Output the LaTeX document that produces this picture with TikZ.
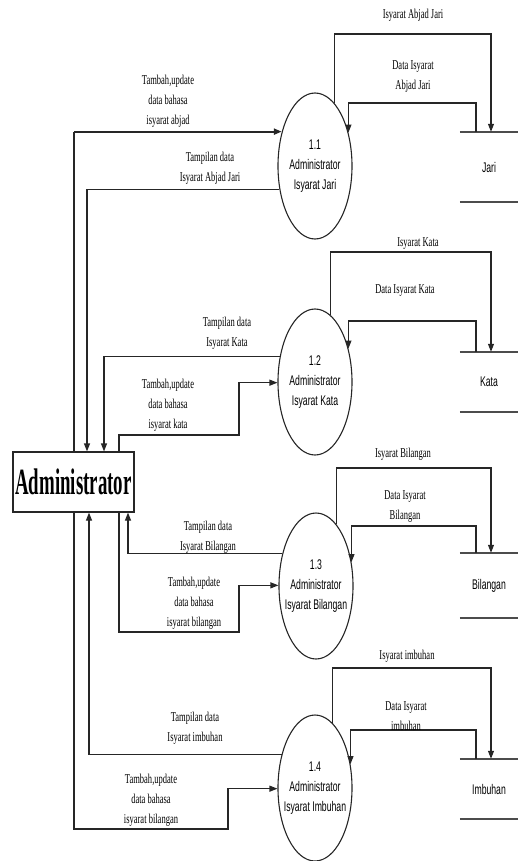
\documentclass[tikz,border=0pt]{standalone}
\usepackage{fontspec}
\setmainfont{Liberation Serif}
\newfontfamily\labfont[FakeStretch=0.63]{Liberation Serif}
\newfontfamily\procfont[FakeStretch=0.62]{Liberation Sans}
\newfontfamily\adminfont[FakeStretch=0.51]{Liberation Serif}
\usetikzlibrary{shapes.geometric,arrows.meta}
\begin{document}
\begin{tikzpicture}[x=1pt,y=-1pt,
  line/.style={draw=black!85, line width=1.1pt},
  arr/.style={-{Triangle[length=8pt,width=6pt]}},
  lab/.style={font=\labfont\fontsize{13.5}{20}\selectfont, align=center, inner sep=0pt},
  ptext/.style={font=\procfont\fontsize{14}{20}\selectfont, align=center, inner sep=0pt},
  proc/.style={ellipse, draw=black!85, line width=1.1pt, minimum width=74pt, minimum height=146pt, inner sep=0pt},
  store/.style={font=\procfont\fontsize{14}{20}\selectfont, minimum width=58pt, inner sep=0pt},
  storeline/.style={draw=black!70, line width=2pt},
  adminbox/.style={draw=black!85, line width=1.1pt, minimum width=121pt, minimum height=60pt, inner sep=0pt, font=\adminfont\bfseries\fontsize{37}{40}\selectfont}
]
\path[use as bounding box] (0,0) rectangle (518,861);

% nodes
\node[adminbox] (admin) at (73.5,482) {Administrator};
\node[proc, label={[ptext]center:{1.1\\Administrator\\Isyarat Jari}}] (p1) at (315,166) {};
\node[proc, label={[ptext]center:{1.2\\Administrator\\Isyarat Kata}}] (p2) at (315,382) {};
\node[proc, label={[ptext]center:{1.3\\Administrator\\Isyarat Bilangan}}] (p3) at (316,586) {};
\node[proc, label={[ptext]center:{1.4\\Administrator\\Isyarat Imbuhan}}] (p4) at (315,788) {};

\node[store, minimum height=70pt] (jari) at (489,167) {Jari};
\node[store, minimum height=60pt] (kata) at (489,382) {Kata};
\node[store, minimum height=65pt] (bil) at (489,585.5) {Bilangan};
\node[store, minimum height=60pt] (imb) at (489,789) {Imbuhan};
\foreach \s in {jari,kata,bil,imb}{
  \draw[storeline] (\s.north west) -- (\s.north east);
  \draw[storeline] (\s.south west) -- (\s.south east);
}

% helper coordinates
\coordinate (j1) at (491,34);   \coordinate (j2) at (476,103);
\coordinate (k1) at (491,252);  \coordinate (k2) at (476,321);
\coordinate (b1) at (491,468);  \coordinate (b2) at (476,526);
\coordinate (i1) at (491,668);  \coordinate (i2) at (476,730);
\coordinate (t1) at (74,132);
\coordinate (t2) at (239,435);  \coordinate (t3) at (239,632);
\coordinate (t4) at (228,829);

% store side flows
\draw[line,arr] (p1.73) |- (j1) -- (j1 |- jari.north);
\draw[line,arr] (j2 |- jari.north) -- (j2) -| (p1.45);
\draw[line,arr] (p2.77) |- (k1) -- (k1 |- kata.north);
\draw[line,arr] (k2 |- kata.north) -- (k2) -| (p2.45);
\draw[line,arr] (p3.72) |- (b1) -- (b1 |- bil.north);
\draw[line,arr] (b2 |- bil.north) -- (b2) -| (p3.34);
\draw[line,arr] (p4.75) |- (i1) -- (i1 |- imb.north);
\draw[line,arr] (i2 |- imb.north) -- (i2) -| (p4.34);

% admin side flows
\draw[line] (admin.north -| t1) -- (t1 |- p1.134);
\draw[line,arr,line width=1.9pt] (t1 |- p1.134) -- (p1.134);
\draw[line,arr] (p1.213) -| (admin.north -| 87,0);
\draw[line,arr] (p2.144) -| (admin.north -| 104,0);
\draw[line,arr] (admin.north -| 119,0) |- (t2) |- (p2.181);
\draw[line,arr] (p3.136) -| (admin.south -| 128,0);
\draw[line,arr] (admin.south -| 119,0) |- (t3) |- (p3.179);
\draw[line,arr] (p4.135) -| (admin.south -| 89,0);
\draw[line,arr] (admin.south -| 74,0) |- (t4) |- (p4.181);

% labels
\node[lab] (l1) at (413,15) {Isyarat Abjad Jari};
\node[lab] (l2) at (413,77) {Data Isyarat\\Abjad Jari};
\node[lab] (l3) at (168,101) {Tambah,update\\data bahasa\\isyarat abjad};
\node[lab] (l4) at (210,168.5) {Tampilan data\\Isyarat Abjad Jari};
\node[lab] (l5) at (418,244) {Isyarat Kata};
\node[lab] (l6) at (405,291) {Data Isyarat Kata};
\node[lab] (l7) at (227,333.5) {Tampilan data\\Isyarat Kata};
\node[lab] (l8) at (168,405) {Tambah,update\\data bahasa\\isyarat kata};
\node[lab] (l9) at (403,454) {Isyarat Bilangan};
\node[lab] (l10) at (405,507) {Data Isyarat\\Bilangan};
\node[lab] (l11) at (208,537.5) {Tampilan data\\Isyarat Bilangan};
\node[lab] (l12) at (194,603) {Tambah,update\\data bahasa\\isyarat bilangan};
\node[lab] (l13) at (407,656) {Isyarat imbuhan};
\node[lab] (l14) at (406,716.5) {Data Isyarat\\imbuhan};
\node[lab] (l15) at (195,728) {Tampilan data\\Isyarat imbuhan};
\node[lab] (l16) at (151,800) {Tambah,update\\data bahasa\\isyarat bilangan};
\end{tikzpicture}
\end{document}
